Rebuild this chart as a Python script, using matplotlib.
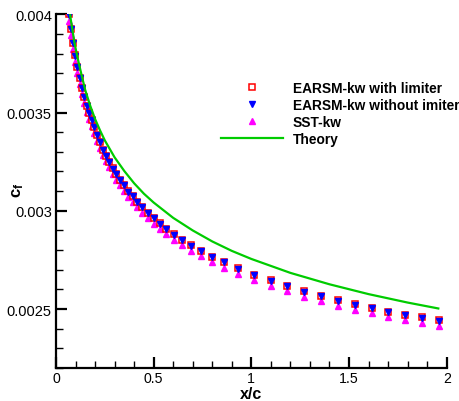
import matplotlib
matplotlib.use("Agg")
import matplotlib.pyplot as plt
from matplotlib.ticker import MultipleLocator

plt.rcParams['font.family'] = ['Liberation Sans', 'DejaVu Sans']
plt.rcParams['mathtext.fontset'] = 'custom'
plt.rcParams['mathtext.rm'] = 'Liberation Sans'
plt.rcParams['mathtext.bf'] = 'Liberation Sans:bold'
plt.rcParams['mathtext.it'] = 'Liberation Sans:italic'

# ---------------- data ----------------
x_pts = [0.0681, 0.0783, 0.0881, 0.0983, 0.1091, 0.1203, 0.1321, 0.1444, 0.1572, 0.1700,
         0.1818, 0.1935, 0.2074, 0.2227, 0.2386, 0.2550, 0.2724, 0.2903, 0.3082, 0.3267,
         0.3456, 0.3702, 0.3927, 0.4163, 0.4419, 0.4711, 0.5003, 0.5310, 0.5648, 0.6027,
         0.6452, 0.6897, 0.7409, 0.7988, 0.8602, 0.9309, 1.0138, 1.0993, 1.1843, 1.2698,
         1.3553, 1.4424, 1.5310, 1.6165, 1.7015, 1.7870, 1.8725, 1.9596]

cf_without = [0.003998, 0.003925, 0.003855, 0.003790, 0.003732, 0.003676, 0.003625, 0.003579,
              0.003534, 0.003497, 0.003463, 0.003424, 0.003385, 0.003348, 0.003310, 0.003280,
              0.003249, 0.003215, 0.003186, 0.003156, 0.003130, 0.003098, 0.003073, 0.003045,
              0.003017, 0.002989, 0.002962, 0.002935, 0.002906, 0.002879, 0.002852, 0.002823,
              0.002796, 0.002765, 0.002737, 0.002706, 0.002673, 0.002645, 0.002616, 0.002589,
              0.002565, 0.002543, 0.002523, 0.002504, 0.002485, 0.002470, 0.002456, 0.002441]

cf_with = [0.003999, 0.003926, 0.003856, 0.003791, 0.003733, 0.003677, 0.003626, 0.003580,
           0.003535, 0.003498, 0.003464, 0.003425, 0.003386, 0.003349, 0.003311, 0.003281,
           0.003250, 0.003216, 0.003187, 0.003157, 0.003131, 0.003099, 0.003074, 0.003046,
           0.003018, 0.002990, 0.002963, 0.002936, 0.002907, 0.002880, 0.002853, 0.002824,
           0.002797, 0.002766, 0.002738, 0.002707, 0.002674, 0.002646, 0.002617, 0.002590,
           0.002566, 0.002544, 0.002524, 0.002505, 0.002486, 0.002471, 0.002457, 0.002442]

cf_sst = [0.003966, 0.003893, 0.003823, 0.003758, 0.003700, 0.003645, 0.003594, 0.003548,
          0.003504, 0.003467, 0.003433, 0.003395, 0.003356, 0.003320, 0.003282, 0.003252,
          0.003222, 0.003188, 0.003159, 0.003129, 0.003103, 0.003071, 0.003046, 0.003018,
          0.002990, 0.002962, 0.002935, 0.002908, 0.002880, 0.002853, 0.002826, 0.002797,
          0.002770, 0.002739, 0.002711, 0.002680, 0.002647, 0.002619, 0.002590, 0.002563,
          0.002539, 0.002517, 0.002497, 0.002478, 0.002459, 0.002444, 0.002431, 0.002416]

x_theory = [0.072, 0.076, 0.08, 0.085, 0.09, 0.095, 0.1, 0.11, 0.12, 0.135, 0.15, 0.175,
            0.2, 0.225, 0.25, 0.3, 0.35, 0.4, 0.45, 0.5, 0.6, 0.7, 0.8, 0.9,
            1.0, 1.2, 1.4, 1.6, 1.8, 1.957]
cf_theory = [0.004000, 0.003970, 0.003948, 0.003914, 0.003883, 0.003853, 0.003828, 0.003780,
             0.003737, 0.003674, 0.003613, 0.003535, 0.003467, 0.003410, 0.003358, 0.003272,
             0.003202, 0.003140, 0.003087, 0.003042, 0.002964, 0.002900, 0.002844, 0.002796,
             0.002755, 0.002684, 0.002626, 0.002576, 0.002533, 0.002503]

labels = ['EARSM-kw with limiter', 'EARSM-kw without imiter', 'SST-kw', 'Theory']
x_ticks = [0, 0.5, 1, 1.5, 2]
x_ticklabels = ['0', '0.5', '1', '1.5', '2']
y_ticks = [0.0025, 0.003, 0.0035, 0.004]
y_ticklabels = ['0.0025', '0.003', '0.0035', '0.004']

# ---------------- figure ----------------
W, H = 460, 402
fig = plt.figure(figsize=(W / 100, H / 100), dpi=100)
ax_w = 446.7 - 56
ax_h = 369 - 15.3
ax = fig.add_axes([56 / W, 33 / H, ax_w / W, ax_h / H])

h_sst, = ax.plot(x_pts, cf_sst, linestyle='none', marker='^', ms=5.0, color='#ff00ff',
                 mec='#ff00ff', label=labels[2], zorder=2)
h_with, = ax.plot(x_pts, cf_with, linestyle='none', marker='s', ms=4.6, mfc='white',
                  mec='#ff0000', mew=1.1, label=labels[0], zorder=3)
h_without, = ax.plot(x_pts, cf_without, linestyle='none', marker='v', ms=4.4,
                     color='#0000ff', mec='#0000ff', label=labels[1], zorder=4)
h_th, = ax.plot(x_theory, cf_theory, color='#00cc00', lw=1.6, label=labels[3], zorder=5)

ax.set_xlim(0, 2)
ax.set_ylim(0.0022, 0.004)

for s in ['top', 'right']:
    ax.spines[s].set_visible(False)
for s in ['left', 'bottom']:
    ax.spines[s].set_linewidth(1.6)

ax.set_xticks(x_ticks)
ax.set_xticklabels(x_ticklabels)
ax.set_yticks(y_ticks)
ax.set_yticklabels(y_ticklabels)
ax.xaxis.set_minor_locator(MultipleLocator(0.1))
ax.yaxis.set_minor_locator(MultipleLocator(0.0001))
ax.tick_params(which='major', direction='in', length=8, width=1.6, labelsize=10.5,
               top=False, right=False, pad=3)
ax.tick_params(axis='x', which='major', pad=2, labelsize=10.2)
ax.tick_params(which='minor', direction='in', length=5, width=1.0, top=False, right=False)

ax.set_xlabel('x/c', fontsize=11.5, fontweight='bold')
ax.xaxis.set_label_coords(0.5, -(394.5 - 369) / ax_h, transform=ax.transAxes)
ax.xaxis.label.set_va('center')
ax.set_ylabel(r'$\mathbf{c}_\mathbf{f}$', fontsize=12)
ax.yaxis.set_label_coords(-(56 - 18) / ax_w, (369 - 190) / ax_h)
ax.yaxis.label.set_va('center')

leg = ax.legend(handles=[h_with, h_without, h_sst, h_th], loc='upper left',
                bbox_to_anchor=(221 / W, 1 - 82 / H), bbox_transform=fig.transFigure,
                frameon=False, borderpad=0, borderaxespad=0, handlelength=4.5,
                handletextpad=0.73, labelspacing=0.22, prop={'weight': 'bold', 'size': 9.9})

fig.savefig('out.png', dpi=100)
